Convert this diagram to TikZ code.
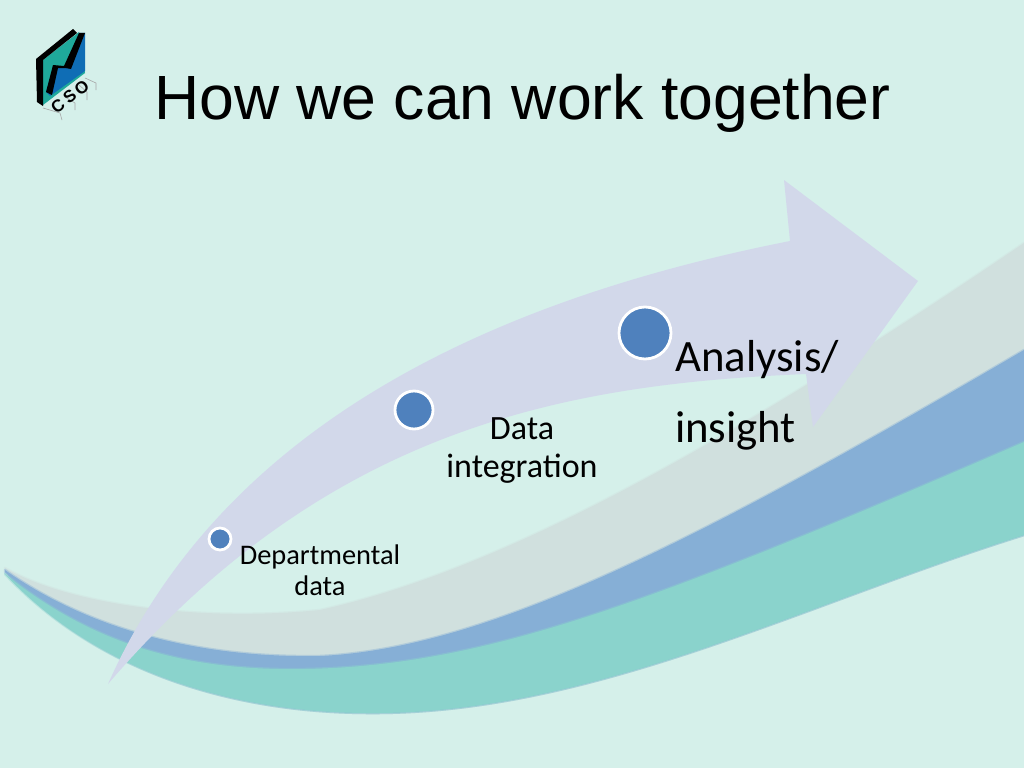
\documentclass[tikz,border=0pt]{standalone}
\usepackage{fontspec}
\setmainfont{Liberation Sans}
\newfontfamily\labelfont{Carlito}
\definecolor{bgc}{HTML}{D5F0EA}
\definecolor{greyb}{HTML}{D0E0DE}
\definecolor{blueb}{HTML}{86AFD6}
\definecolor{tealb}{HTML}{8AD3CC}
\definecolor{arrowc}{HTML}{D2D8EA}
\definecolor{dotc}{HTML}{4F81BD}
\definecolor{logot}{HTML}{1FA99B}
\definecolor{logob}{HTML}{0F6DB5}
\tikzset{
  band/.style={line width=2.5pt,line join=round,draw opacity=.4},
  dotnode/.style={circle,fill=dotc,draw=white,line width=2.8pt,inner sep=0pt},
  smalllabel/.style={font=\labelfont\fontsize{28.4}{31}\selectfont,align=center,inner sep=0pt},
  midlabel/.style={font=\labelfont\fontsize{34}{37.5}\selectfont,align=center,inner sep=0pt},
  biglabel/.style={font=\labelfont\fontsize{44.8}{44}\selectfont,anchor=base west,inner sep=0pt},
  tick/.style={draw=black!35,line width=.6pt},
  logoletter/.style={font=\bfseries\fontsize{17}{17}\selectfont,rotate=38,inner sep=0pt}
}
\begin{document}
\begin{tikzpicture}[x=1pt,y=-1pt]
\useasboundingbox (0,0) rectangle (1024,768);
\fill[bgc] (0,0) rectangle (1024,768);
% swoosh bands
\path[fill=greyb,draw=greyb,band] (5,568) .. controls (70,605) and (200,622) .. (320,610)
  .. controls (500,570) and (720,450) .. (1024,243) -- (1024,535)
  .. controls (800,605) and (590,715) .. (367,713) .. controls (220,712) and (90,665) .. (5,570) -- cycle;
\path[fill=blueb,draw=blueb,band] (5,570) .. controls (90,630) and (200,658) .. (320,656)
  .. controls (490,648) and (700,540) .. (1024,350) -- (1024,535)
  .. controls (800,605) and (590,715) .. (367,713) .. controls (220,712) and (90,665) .. (5,572) -- cycle;
\path[fill=tealb,draw=tealb,band] (5,574) .. controls (100,650) and (200,675) .. (333,668)
  .. controls (500,659) and (660,600) .. (1024,442) -- (1024,535)
  .. controls (800,605) and (590,715) .. (367,713) .. controls (220,712) and (90,665) .. (5,574) -- cycle;
% big arrow
\fill[arrowc] (108,684) .. controls (210,455) and (440,310) .. (790,241)
  -- (784,180) -- (918,281) -- (813,427) -- (806,374)
  .. controls (570,384) and (330,425) .. (108,684) -- cycle;
% dots
\node[dotnode,minimum size=22pt] (d1) at (220,539) {};
\node[dotnode,minimum size=38pt] (d2) at (414,410) {};
\node[dotnode,minimum size=52pt] (d3) at (645,333) {};
% labels
\node[smalllabel] (l1) at (320,570) {Departmental\\data};
\node[midlabel] (l2) at (522,450.5) {Data\\integration};
\node[biglabel] (l3a) at (675,371) {Analysis/};
\node[biglabel] (l3b) at (675,442) {insight};
% title
\node[font=\fontsize{62.5}{62.5}\selectfont,anchor=base west,inner sep=0pt] (title) at (154,119) {How we can work together};
% logo
\fill[logot] (43,60) -- (79,32) -- (85,73) -- (43,105) -- cycle;
\fill[logob] (79,33) -- (85,33) -- (85,71) -- (50,96) -- (46,92) -- (53,67) -- (65,68) -- cycle;
\fill[black] (36,59) -- (73,29) -- (77,33) -- (43,60) -- (43,106) -- (37,102) -- cycle;
\fill[black] (79,33) -- (85,33) -- (71,69) -- (65,68) -- (58,68) -- (52,95) -- (46,92) -- (53,65) -- (64,66) -- cycle;
\draw[tick] (43,108) -- (60,113) -- (62,120);
\draw[tick] (65,97) -- (75,103) -- (75,110);
\draw[tick] (79,85) -- (87,92) -- (87,100);
\draw[tick] (85,78) -- (96,83) -- (96,90);
\node[logoletter] (cso) at (70,96.5) {C\hspace{3pt}S\hspace{3pt}O};
\end{tikzpicture}
\end{document}
